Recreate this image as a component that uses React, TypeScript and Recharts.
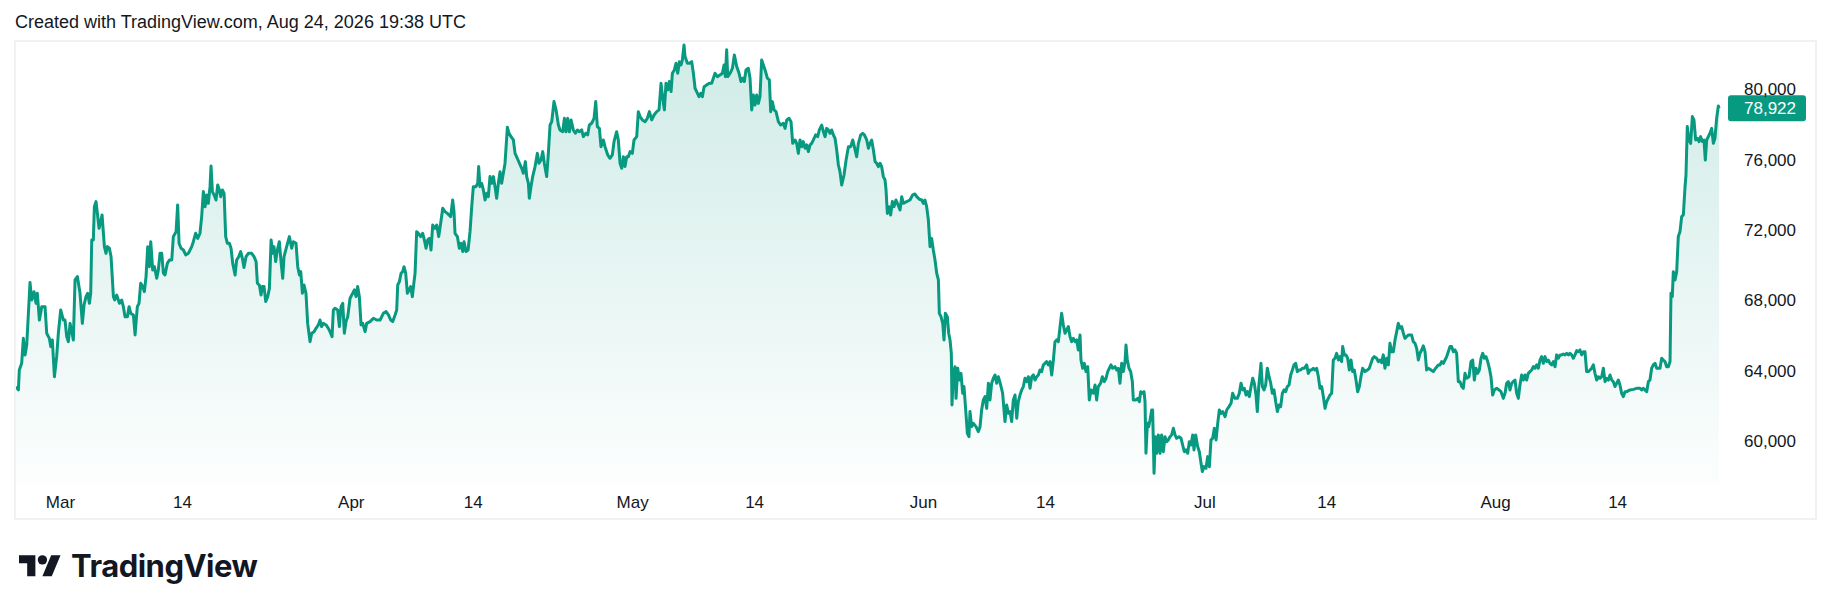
import { Area, ComposedChart, ReferenceLine, XAxis, YAxis } from "recharts";

// x = days since 1 Mar 2026 (UTC), y = price
const PRICE_POINTS: [number, number][] = [
  [-4.74, 63100], [-4.49, 62920], [-4.39, 64050], [-4.14, 64430], [-3.96, 65850], [-3.78, 64900], [-3.6, 65470], [-3.25, 69020],
  [-3.07, 68030], [-2.82, 68500], [-2.61, 67840], [-2.47, 68410], [-2.25, 66890], [-2.0, 67650], [-1.65, 67650], [-1.47, 66140],
  [-1.19, 65850], [-1.04, 65380], [-0.87, 65760], [-0.65, 63670], [-0.41, 64810], [-0.23, 66140], [0.02, 67460], [0.31, 66890],
  [0.48, 66890], [0.66, 65950], [0.84, 65660], [1.02, 66700], [1.23, 66140], [1.37, 65760], [1.55, 69170], [1.8, 69360],
  [2.08, 68410], [2.33, 66700], [2.51, 67750], [2.72, 68220], [2.9, 68410], [3.08, 67840], [3.22, 68410], [3.33, 71440],
  [3.5, 71440], [3.61, 73330], [3.79, 73620], [3.93, 72950], [4.11, 72100], [4.29, 72480], [4.43, 72860], [4.68, 71060],
  [4.85, 70680], [5.0, 71060], [5.21, 70970], [5.39, 70490], [5.64, 68220], [5.78, 68030], [5.99, 68310], [6.28, 67840],
  [6.52, 68030], [6.7, 67650], [6.88, 67080], [7.13, 67080], [7.31, 67650], [7.49, 67270], [7.77, 67180], [7.95, 66040],
  [8.19, 67650], [8.37, 67840], [8.55, 68980], [8.76, 68790], [8.94, 68500], [9.12, 69360], [9.3, 71060], [9.47, 69920],
  [9.62, 71340], [9.83, 69730], [10.01, 69920], [10.26, 69260], [10.43, 69730], [10.61, 70680], [10.79, 70680], [10.97, 69550],
  [11.14, 69450], [11.39, 70110], [11.61, 70300], [11.86, 70300], [12.03, 71630], [12.32, 71910], [12.49, 73430], [12.64, 71250],
  [12.85, 70970], [13.1, 70870], [13.35, 70590], [13.63, 70680], [13.99, 71060], [14.16, 71340], [14.41, 71820], [14.63, 71530],
  [14.87, 71820], [15.05, 72770], [15.23, 74190], [15.41, 73330], [15.58, 74000], [15.76, 73520], [15.94, 74470], [16.05, 75640],
  [16.19, 74190], [16.37, 74000], [16.58, 73710], [16.76, 74560], [16.94, 74280], [17.08, 73900], [17.26, 74280], [17.44, 74090],
  [17.61, 71630], [17.79, 71250], [18.0, 71250], [18.18, 70970], [18.36, 70110], [18.61, 69450], [18.78, 70300], [19.0, 70490],
  [19.21, 70780], [19.39, 70400], [19.56, 69870], [19.78, 70490], [20.03, 70680], [20.38, 70680], [20.63, 70490], [20.85, 70210],
  [20.99, 68980], [21.2, 68880], [21.38, 68310], [21.52, 68790], [21.7, 68790], [21.88, 67940], [22.09, 68220], [22.27, 68690],
  [22.45, 71440], [22.62, 70680], [22.76, 71060], [22.94, 70210], [23.12, 70870], [23.33, 71340], [23.51, 70210], [23.69, 69260],
  [23.83, 70490], [24.11, 71060], [24.4, 71630], [24.65, 70970], [24.83, 71340], [25.11, 71250], [25.29, 69920], [25.47, 69450],
  [25.61, 69640], [25.79, 68410], [25.96, 68880], [26.17, 68410], [26.35, 66700], [26.6, 65660], [26.78, 66140], [27.03, 66230],
  [27.24, 66420], [27.49, 66610], [27.67, 66890], [27.84, 66520], [28.02, 66700], [28.31, 66610], [28.56, 66420], [28.73, 66230],
  [28.95, 65950], [29.09, 67460], [29.27, 67560], [29.55, 67460], [29.73, 66520], [29.91, 67650], [30.09, 67840], [30.26, 66140],
  [30.44, 66800], [30.62, 67080], [30.87, 68130], [31.15, 68410], [31.33, 68600], [31.51, 68220], [31.68, 68790], [31.86, 68220],
  [32.04, 66610], [32.22, 66700], [32.47, 66230], [32.64, 66700], [33.0, 66800], [33.36, 66990], [33.71, 66890], [34.07, 66890],
  [34.42, 67270], [34.71, 67370], [34.96, 67180], [35.21, 66890], [35.42, 66800], [35.67, 67180], [35.84, 67460], [35.95, 68880],
  [36.13, 69070], [36.31, 69550], [36.48, 69640], [36.62, 69920], [36.8, 69550], [36.98, 68410], [37.16, 68600], [37.33, 68790],
  [37.51, 68220], [37.69, 69070], [37.8, 69550], [37.97, 71910], [38.15, 71820], [38.4, 71630], [38.61, 71820], [38.79, 71440],
  [38.97, 70970], [39.15, 71440], [39.33, 71530], [39.5, 70870], [39.68, 72290], [39.93, 72100], [40.11, 72290], [40.32, 71630],
  [40.53, 72390], [40.75, 73240], [40.99, 73050], [41.24, 72950], [41.6, 72770], [41.81, 73710], [41.95, 73050], [42.06, 71820],
  [42.31, 71630], [42.52, 70970], [42.7, 71250], [42.88, 70780], [43.02, 71340], [43.23, 70780], [43.45, 70870], [43.66, 71910],
  [43.84, 73330], [44.01, 74470], [44.3, 74470], [44.48, 74660], [44.58, 75610], [44.72, 74470], [44.9, 74660], [45.08, 74280],
  [45.26, 73710], [45.44, 74090], [45.61, 73900], [45.79, 75040], [45.97, 74660], [46.15, 75040], [46.32, 74470], [46.5, 73810],
  [46.68, 74660], [46.86, 75320], [47.03, 74660], [47.21, 75230], [47.39, 75800], [47.64, 77840], [47.82, 77500], [48.03, 77310],
  [48.28, 77120], [48.46, 76360], [48.7, 76080], [48.92, 75800], [49.17, 75510], [49.34, 75230], [49.56, 75890], [49.7, 75040],
  [49.88, 74660], [49.98, 73810], [50.16, 74470], [50.34, 75040], [50.59, 75610], [50.84, 76360], [51.01, 75800], [51.23, 75980],
  [51.41, 76460], [51.58, 75800], [51.83, 75040], [52.01, 76360], [52.19, 77970], [52.37, 78160], [52.61, 79300], [52.83, 78830],
  [53.08, 77970], [53.25, 77690], [53.54, 77590], [53.72, 78350], [53.89, 77590], [54.07, 78350], [54.25, 77590], [54.43, 78260],
  [54.67, 77690], [54.89, 77500], [55.1, 77690], [55.31, 77590], [55.56, 77690], [55.74, 77310], [55.99, 77500], [56.2, 77410],
  [56.38, 77970], [56.63, 78070], [56.88, 78350], [57.06, 79300], [57.23, 77880], [57.45, 77780], [57.62, 76740], [57.87, 77120],
  [58.05, 76740], [58.34, 76270], [58.58, 76080], [58.83, 76270], [59.01, 77030], [59.29, 77590], [59.47, 77120], [59.65, 75800],
  [59.83, 75510], [60.01, 76170], [60.18, 75610], [60.36, 76170], [60.54, 76170], [60.72, 76460], [60.96, 76360], [61.14, 77120],
  [61.43, 77310], [61.6, 78730], [61.78, 78450], [62.03, 78260], [62.32, 78160], [62.56, 78350], [62.78, 78730], [63.03, 78260],
  [63.28, 78540], [63.56, 78730], [63.81, 78830], [64.02, 80340], [64.2, 79490], [64.38, 78830], [64.55, 80340], [64.73, 79960],
  [64.91, 80440], [65.09, 79870], [65.23, 80910], [65.44, 81100], [65.62, 81480], [65.8, 80910], [65.98, 81570], [66.15, 81380],
  [66.3, 81670], [66.47, 82520], [66.58, 81860], [66.83, 81480], [67.04, 81480], [67.29, 81570], [67.47, 80910], [67.65, 80060],
  [67.82, 79870], [68.07, 79580], [68.25, 79770], [68.43, 79580], [68.61, 80150], [68.89, 80250], [69.17, 80340], [69.42, 80340],
  [69.6, 80630], [69.78, 80910], [70.03, 80720], [70.31, 80810], [70.56, 80910], [70.74, 81380], [70.88, 80720], [71.02, 82240],
  [71.13, 80720], [71.38, 80910], [71.63, 81190], [71.84, 81950], [72.09, 81290], [72.34, 80910], [72.55, 80440], [72.73, 80630],
  [72.9, 80440], [73.08, 81100], [73.33, 81190], [73.51, 80630], [73.69, 78830], [73.86, 79680], [74.04, 79110], [74.22, 79680],
  [74.4, 79200], [74.57, 79580], [74.75, 81670], [74.93, 81380], [75.11, 81100], [75.36, 80630], [75.57, 80530], [75.71, 78730],
  [75.89, 79300], [76.07, 78830], [76.28, 78730], [76.53, 78160], [76.78, 77970], [77.06, 78070], [77.24, 77780], [77.42, 78260],
  [77.67, 78350], [77.88, 78160], [78.06, 76930], [78.31, 77120], [78.48, 76930], [78.66, 76360], [78.84, 77120], [79.02, 76740],
  [79.19, 77030], [79.37, 76650], [79.55, 76840], [79.73, 76460], [79.91, 76840], [80.08, 76930], [80.26, 77120], [80.51, 77410],
  [80.72, 77310], [80.9, 77690], [81.15, 77970], [81.33, 77590], [81.51, 77310], [81.68, 77780], [81.86, 77690], [82.04, 77500],
  [82.21, 77690], [82.39, 77410], [82.57, 77220], [82.75, 76550], [82.93, 75700], [83.1, 75320], [83.28, 74560], [83.53, 75130],
  [83.75, 75980], [84.0, 76740], [84.24, 76740], [84.46, 77120], [84.63, 76740], [84.88, 76170], [85.06, 76930], [85.31, 77410],
  [85.52, 77500], [85.7, 77410], [85.95, 77120], [86.13, 76650], [86.3, 76930], [86.48, 77120], [86.66, 76550], [86.84, 75890],
  [87.01, 75800], [87.19, 75610], [87.37, 75800], [87.54, 75610], [87.72, 75040], [87.9, 74850], [88.01, 74280], [88.15, 72950],
  [88.33, 73330], [88.5, 72860], [88.68, 73620], [88.86, 73330], [89.07, 73710], [89.29, 73430], [89.5, 73140], [89.68, 73900],
  [89.85, 73520], [90.21, 73620], [90.56, 73710], [90.85, 74000], [91.1, 74050], [91.28, 73900], [91.56, 73750], [91.81, 73710],
  [91.99, 73520], [92.16, 73710], [92.34, 73330], [92.52, 72580], [92.7, 71060], [92.87, 71530], [93.05, 70870], [93.23, 70300],
  [93.41, 69550], [93.59, 69170], [93.69, 67270], [93.87, 67080], [94.05, 66700], [94.19, 65760], [94.33, 67270], [94.54, 67080],
  [94.69, 66140], [94.83, 65760], [94.97, 65000], [95.04, 62060], [95.18, 63860], [95.36, 64240], [95.47, 62440], [95.65, 64150],
  [95.82, 63480], [96.0, 63860], [96.18, 62730], [96.32, 63110], [96.5, 61780], [96.68, 60450], [96.85, 60260], [96.96, 61690],
  [97.14, 60830], [97.32, 61020], [97.6, 60830], [97.85, 60550], [98.03, 60830], [98.2, 61780], [98.38, 62350], [98.56, 62540],
  [98.74, 61870], [98.92, 63300], [99.09, 62350], [99.27, 63300], [99.45, 63580], [99.63, 63770], [99.8, 63300], [99.98, 63670],
  [100.23, 63200], [100.44, 62730], [100.69, 61120], [100.87, 62060], [101.05, 61590], [101.23, 61690], [101.4, 61120], [101.58, 62350],
  [101.76, 62630], [101.94, 61310], [102.11, 62250], [102.29, 62630], [102.47, 62920], [102.65, 63110], [102.82, 63580], [103.0, 63390],
  [103.18, 63670], [103.36, 63010], [103.54, 63670], [103.71, 63770], [103.89, 63480], [104.07, 63670], [104.25, 63770], [104.42, 64050],
  [104.6, 63960], [104.78, 64340], [104.96, 64430], [105.13, 64530], [105.31, 64340], [105.49, 64530], [105.67, 63770], [105.85, 64620],
  [106.02, 65660], [106.2, 65760], [106.38, 65660], [106.56, 66520], [106.73, 67270], [106.91, 66610], [107.09, 66140], [107.27, 66330],
  [107.44, 66520], [107.62, 65950], [107.8, 65660], [107.98, 65850], [108.16, 65660], [108.33, 65760], [108.51, 65190], [108.69, 66040],
  [108.79, 64620], [108.97, 64150], [109.15, 64430], [109.33, 63960], [109.51, 64240], [109.68, 62350], [109.86, 62920], [110.11, 62730],
  [110.29, 63200], [110.46, 62350], [110.64, 63110], [110.89, 63300], [111.07, 63670], [111.28, 63390], [111.46, 63580], [111.64, 63960],
  [111.82, 64150], [111.99, 64340], [112.17, 64150], [112.42, 64240], [112.6, 64050], [112.77, 64150], [112.95, 63300], [113.13, 64430],
  [113.31, 63960], [113.49, 64530], [113.59, 65470], [113.73, 64620], [113.91, 64150], [114.09, 63960], [114.27, 63390], [114.37, 62350],
  [114.62, 62350], [114.84, 62440], [115.01, 62250], [115.16, 62820], [115.37, 62730], [115.51, 62820], [115.62, 62250], [115.72, 59320],
  [115.87, 61020], [116.01, 60830], [116.15, 61210], [116.33, 61780], [116.43, 61780], [116.58, 58180], [116.72, 60260], [116.86, 59320],
  [117.04, 60360], [117.22, 59320], [117.39, 60360], [117.57, 59410], [117.75, 60260], [117.93, 59980], [118.11, 60080], [118.28, 60260],
  [118.46, 60360], [118.64, 60740], [118.82, 60360], [118.99, 60170], [119.24, 60260], [119.46, 60170], [119.63, 59790], [119.81, 59410],
  [119.99, 59510], [120.17, 59320], [120.34, 59980], [120.52, 59790], [120.7, 60360], [120.84, 59510], [121.02, 60360], [121.23, 59700],
  [121.41, 59410], [121.59, 58750], [121.73, 58280], [121.91, 58560], [122.12, 58470], [122.3, 59130], [122.48, 58560], [122.65, 60080],
  [122.83, 60170], [123.01, 60740], [123.19, 60080], [123.37, 61020], [123.54, 61780], [123.72, 61590], [123.9, 61690], [124.15, 61400],
  [124.33, 61780], [124.57, 61970], [124.79, 62160], [124.96, 62730], [125.21, 62440], [125.46, 62440], [125.67, 62730], [125.85, 63300],
  [126.03, 62920], [126.21, 63010], [126.39, 62630], [126.56, 62820], [126.74, 62540], [126.92, 63110], [127.1, 63580], [127.27, 63300],
  [127.45, 62630], [127.59, 61690], [127.74, 63110], [127.88, 63860], [127.98, 64430], [128.13, 63110], [128.3, 62920], [128.48, 63200],
  [128.66, 64150], [128.84, 63670], [129.02, 63300], [129.19, 62730], [129.37, 62920], [129.55, 62250], [129.73, 61690], [129.91, 62060],
  [130.08, 61970], [130.26, 62730], [130.44, 62920], [130.61, 62820], [130.79, 63110], [130.97, 63200], [131.15, 63770], [131.33, 64050],
  [131.5, 64340], [131.68, 64430], [131.86, 63960], [132.04, 64050], [132.21, 64050], [132.39, 64150], [132.61, 64150], [132.85, 64340],
  [133.03, 63860], [133.21, 64050], [133.38, 64050], [133.56, 64150], [133.74, 64050], [133.92, 64150], [134.1, 63670], [134.27, 63010],
  [134.45, 63110], [134.63, 62540], [134.81, 61870], [134.98, 62250], [135.16, 62440], [135.34, 62630], [135.52, 62730], [135.69, 64620],
  [135.87, 64720], [136.05, 65000], [136.23, 64620], [136.4, 64810], [136.58, 64530], [136.69, 65380], [136.87, 64910], [137.04, 64910],
  [137.22, 64720], [137.4, 64050], [137.58, 64620], [137.75, 63960], [137.93, 64050], [138.11, 63480], [138.29, 62820], [138.47, 63110],
  [138.64, 63670], [138.82, 64150], [139.07, 63960], [139.32, 64050], [139.53, 64150], [139.71, 64430], [139.89, 64720], [140.06, 64810],
  [140.31, 64720], [140.49, 64530], [140.67, 64620], [140.85, 64470], [141.02, 64910], [141.2, 64150], [141.38, 64720], [141.56, 64340],
  [141.73, 65570], [141.91, 65090], [142.09, 65090], [142.27, 65760], [142.45, 66230], [142.62, 66700], [142.8, 66420], [142.98, 66520],
  [143.16, 66140], [143.33, 65850], [143.51, 65950], [143.69, 66040], [143.87, 66040], [144.04, 66040], [144.22, 65660], [144.4, 65570],
  [144.58, 65280], [144.76, 64620], [144.93, 65000], [145.11, 65190], [145.29, 65420], [145.47, 65090], [145.64, 64050], [145.82, 64150],
  [146.11, 64050], [146.35, 63960], [146.6, 64150], [146.89, 64340], [147.07, 64340], [147.24, 64530], [147.42, 64430], [147.6, 64620],
  [147.78, 64810], [147.95, 65090], [148.13, 65380], [148.31, 65380], [148.49, 65090], [148.66, 65190], [148.84, 65000], [149.02, 63390],
  [149.2, 63390], [149.38, 63110], [149.55, 63010], [149.73, 63860], [149.91, 63580], [150.16, 63670], [150.37, 64530], [150.55, 64620],
  [150.73, 63480], [150.9, 64150], [151.08, 63860], [151.26, 64050], [151.44, 64720], [151.62, 65000], [151.79, 64720], [151.97, 64810],
  [152.15, 64530], [152.33, 64150], [152.5, 63670], [152.68, 62630], [152.86, 62920], [153.11, 63010], [153.36, 62920], [153.57, 62820],
  [153.82, 62440], [154.0, 62730], [154.17, 63300], [154.35, 63390], [154.53, 62920], [154.71, 63300], [154.88, 63390], [155.06, 63480],
  [155.24, 62730], [155.42, 62440], [155.59, 63200], [155.77, 63770], [155.95, 63480], [156.13, 63770], [156.3, 63480], [156.48, 63860],
  [156.66, 63960], [156.84, 64050], [157.02, 64240], [157.19, 64150], [157.37, 64340], [157.55, 64150], [157.73, 64620], [157.9, 64810],
  [158.08, 64430], [158.26, 64810], [158.44, 64530], [158.61, 64620], [158.79, 64430], [158.97, 64340], [159.15, 64530], [159.33, 64240],
  [159.5, 64910], [159.68, 64720], [159.86, 64910], [160.04, 64910], [160.21, 64960], [160.39, 64910], [160.57, 65000], [160.75, 64910],
  [160.92, 65000], [161.1, 64910], [161.28, 64720], [161.46, 64910], [161.64, 65150], [161.81, 65090], [161.99, 65190], [162.17, 64910],
  [162.35, 65090], [162.52, 65090], [162.7, 63960], [162.88, 63960], [163.06, 64050], [163.23, 64150], [163.41, 64340], [163.59, 63860],
  [163.77, 63480], [163.94, 63670], [164.12, 63580], [164.3, 63670], [164.48, 64150], [164.66, 63390], [164.83, 63580], [165.01, 63480],
  [165.19, 63770], [165.37, 63480], [165.54, 63390], [165.72, 63110], [165.9, 63300], [166.08, 63480], [166.25, 63200], [166.43, 62730],
  [166.61, 62540], [166.79, 62820], [166.97, 62820], [167.32, 62920], [167.68, 62950], [168.03, 63010], [168.39, 63010], [168.57, 62920],
  [168.74, 63010], [168.92, 62920], [169.1, 62820], [169.28, 63390], [169.45, 63480], [169.63, 64150], [169.81, 64340], [169.99, 64430],
  [170.17, 64150], [170.34, 64150], [170.52, 64150], [170.7, 64720], [170.88, 64620], [171.05, 64530], [171.23, 64240], [171.41, 64240],
  [171.59, 64530], [171.69, 68410], [171.83, 68220], [171.94, 69640], [172.12, 69170], [172.3, 69640], [172.47, 71630], [172.65, 71910],
  [172.83, 72770], [173.01, 72860], [173.19, 74470], [173.29, 75130], [173.43, 77880], [173.61, 77120], [173.79, 76930], [173.97, 78450],
  [174.14, 78260], [174.32, 77120], [174.5, 77220], [174.68, 77030], [174.85, 77310], [175.03, 77030], [175.21, 77120], [175.35, 75980],
  [175.5, 77120], [175.67, 77310], [175.85, 77500], [176.03, 77780], [176.21, 76930], [176.38, 77220], [176.56, 78350], [176.74, 79050],
  [176.82, 78922],
];

const TICK_DAYS = [0, 13, 31, 44, 61, 74, 92, 105, 122, 135, 153, 166];
const TICK_LABELS = ["Mar", "14", "Apr", "14", "May", "14", "Jun", "14", "Jul", "14", "Aug", "14"];
const PRICE_TICKS = [60000, 64000, 68000, 72000, 76000, 80000];
const LAST_PRICE = 78922;
const TITLE = "Created with TradingView.com, Aug 24, 2026 19:38 UTC";

const GREEN = "#089981";
const INK = "#131722";
const FONT = "'Liberation Sans', Arial, sans-serif";

const data = PRICE_POINTS.map(([day, price]) => ({ day, price }));

const DayTick = ({ x, y, payload }: any) => {
  const i = TICK_DAYS.indexOf(payload.value);
  return (
    <text x={x} y={y + 24} textAnchor="middle" fontSize={17} fill={INK} fontFamily={FONT}>
      {TICK_LABELS[i]}
    </text>
  );
};

const PriceTick = ({ x, y, payload }: any) => (
  <text x={x + 74} y={y + 6} textAnchor="end" fontSize={17} fill={INK} fontFamily={FONT}>
    {Number(payload.value).toLocaleString("en-US")}
  </text>
);

const PriceTag = (props: any) => {
  const vb = props.viewBox || { x: 16, y: 109, width: 1706 };
  const left = vb.x + vb.width + 6;
  return (
    <g>
      <rect x={left} y={vb.y - 13} width={78} height={26} rx={3} fill={GREEN} />
      <text x={left + 68} y={vb.y + 6} textAnchor="end" fontSize={17} fill="#ffffff" fontFamily={FONT}>
        {LAST_PRICE.toLocaleString("en-US")}
      </text>
    </g>
  );
};

export default function App() {
  return (
    <div style={{ position: "absolute", left: 0, top: 0, width: 1830, height: 611, background: "#ffffff" }}>
      <svg width={1830} height={611} style={{ position: "absolute", left: 0, top: 0 }}>
        <text x={15} y={28} fontSize={18} fill={INK} fontFamily={FONT}>
          {TITLE}
        </text>
        <rect x={15} y={41} width={1801} height={478} fill="none" stroke="#f0f1f3" strokeWidth={2} />
        <g transform="translate(19 550.5) scale(1.17)" fill={INK}>
          <path d="M14 22H7V11H0V4h14v18zM28 22h-8l7.5-18h8L28 22z" />
          <circle cx={20} cy={8} r={4} />
        </g>
        <text x={71} y={577} fontSize={31} fontWeight={700} fill={INK} fontFamily="Inter, 'Liberation Sans', sans-serif" letterSpacing={-0.5}>
          TradingView
        </text>
      </svg>
      <div style={{ position: "absolute", left: 0, top: 0 }}>
        <ComposedChart width={1830} height={611} data={data} margin={{ top: 41, right: 0, bottom: 91, left: 16 }}>
          <defs>
            <linearGradient id="tvFill" x1="0" y1="0" x2="0" y2="1">
              <stop offset="0%" stopColor={GREEN} stopOpacity={0.32} />
              <stop offset="100%" stopColor={GREEN} stopOpacity={0.02} />
            </linearGradient>
          </defs>
          <XAxis
            dataKey="day"
            type="number"
            domain={[-4.744, 177.13]}
            ticks={TICK_DAYS}
            interval={0}
            allowDataOverflow
            axisLine={false}
            tickLine={false}
            tickSize={0}
            tickMargin={0}
            height={36}
            tick={<DayTick />}
          />
          <YAxis
            orientation="right"
            type="number"
            domain={[57574, 82744]}
            ticks={PRICE_TICKS}
            interval={0}
            allowDataOverflow
            axisLine={false}
            tickLine={false}
            tickSize={0}
            tickMargin={0}
            width={108}
            tick={<PriceTick />}
          />
          <Area
            type="linear"
            dataKey="price"
            stroke={GREEN}
            strokeWidth={3}
            strokeLinejoin="round"
            fill="url(#tvFill)"
            dot={false}
            activeDot={false}
            isAnimationActive={false}
          />
          <ReferenceLine y={LAST_PRICE} stroke="none" label={<PriceTag />} />
        </ComposedChart>
      </div>
    </div>
  );
}
